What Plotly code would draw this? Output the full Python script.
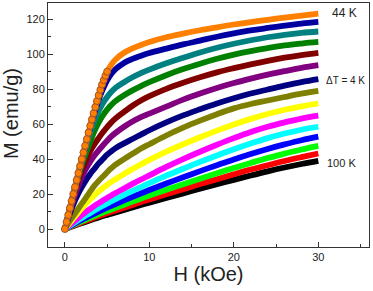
import plotly.graph_objects as go

# common field grid (kOe) for 48-100 K
H = [0, 0.5, 1, 1.5, 2, 2.5, 3, 3.5, 4, 4.5, 5, 5.5, 6, 7, 8, 9, 10, 12, 14, 16, 18, 20, 22, 24, 26, 28, 30]
# 44 K was read more finely at low field (individual symbols visible there)
H_44 = [0, 0.2, 0.4, 0.6, 0.8, 1.0, 1.2, 1.4, 1.6, 1.8, 2.0, 2.2, 2.4, 2.6, 2.8, 3.0, 3.2, 3.4, 3.6, 3.8,
        4.0, 4.2, 4.4, 4.6, 4.8, 5.0, 5.5, 6, 7, 8, 9, 10, 12, 14, 16, 18, 20, 22, 24, 26, 28, 30]

temps = ["44 K", "48 K", "52 K", "56 K", "60 K", "64 K", "68 K", "72 K",
         "76 K", "80 K", "84 K", "88 K", "92 K", "96 K", "100 K"]

M_44 = [0, 4, 8, 12, 16, 20, 24, 28, 32, 36, 40, 43.8, 47.6, 51.4, 55.2, 59, 62.6, 66.2, 69.8, 73.2,
        76.5, 79.6, 82.6, 85.2, 87.7, 90, 94, 97, 100.8, 103.3, 105.3, 107, 109.7, 111.8, 113.7, 115.4, 117, 118.4, 119.7, 120.9, 122.1, 123.2]
M_48 = [0, 10, 20, 30, 39.5, 49, 58, 66.5, 74, 80, 85, 88.8, 91.5, 95, 97.3, 99.1, 100.7, 103.2, 105.6, 107.8, 110, 111.9, 113.6, 115, 116.3, 117.5, 118.5]
M_52 = [0, 10, 20, 29.5, 38.5, 47, 55, 62, 67.5, 72, 75.5, 78.5, 80.8, 84, 86.8, 89.2, 91.2, 94.8, 98, 101, 103.7, 106, 108, 109.7, 111.1, 112.2, 113]
M_56 = [0, 9.8, 19.5, 28.5, 36.5, 43.5, 50, 56, 61, 65, 68.3, 71, 73.2, 76.5, 79.3, 81.8, 84, 88, 91.5, 94.6, 97.4, 99.8, 101.8, 103.5, 105, 106.1, 107]
M_60 = [0, 9.5, 18.5, 26.5, 33.5, 39.5, 44.5, 48.5, 52, 55.3, 58.3, 61, 63.3, 67, 70.5, 73.5, 76, 80.2, 83.7, 86.8, 89.6, 92, 94.2, 96.2, 98, 99.5, 100.8]
M_64 = [0, 8.5, 16.5, 23.5, 29.5, 34.5, 38.5, 42, 45, 47.8, 50.5, 53, 55, 58.5, 61.5, 64, 66, 70, 74, 77.5, 80.7, 83.5, 86, 88.3, 90.3, 92.2, 93.7]
M_68 = [0, 7.5, 14, 19.5, 24, 28, 31.5, 34.5, 37.5, 40, 42.5, 44.5, 46.3, 49, 51.5, 54, 56.5, 61, 65, 68.5, 71.8, 74.8, 77.5, 79.8, 82, 84, 85.7]
M_72 = [0, 4, 7.5, 11, 14.5, 18, 21.5, 24.8, 27.5, 30, 32.5, 34.8, 36.8, 40, 43, 46, 48.5, 53.5, 58, 62, 65.7, 69, 71.5, 73.5, 75.5, 77.4, 79]
M_76 = [0, 3, 6, 9, 11.8, 14.5, 17, 19.3, 21.5, 23.5, 25.3, 27, 28.5, 31.5, 34.3, 37, 39.5, 44.2, 48.5, 52.5, 56.3, 59.8, 63, 65.8, 68.2, 70.2, 71.8]
M_80 = [0, 2, 4, 6, 8, 9.8, 11.5, 13.2, 14.8, 16.3, 17.8, 19.2, 20.6, 23.2, 25.8, 28.3, 30.7, 35.5, 40, 44.2, 48.2, 52, 55.5, 58.5, 61, 63.2, 64.8]
M_84 = [0, 1.6, 3.2, 4.8, 6.3, 7.8, 9.2, 10.6, 12, 13.3, 14.6, 15.9, 17.1, 19.5, 21.8, 24, 26.2, 30.5, 34.5, 38.4, 42.1, 45.6, 48.9, 52, 54.6, 56.8, 58.5]
M_88 = [0, 1.3, 2.6, 3.9, 5.2, 6.4, 7.6, 8.8, 10, 11.1, 12.2, 13.3, 14.3, 16.4, 18.4, 20.4, 22.3, 26, 29.6, 33.1, 36.5, 39.8, 42.9, 45.8, 48.4, 50.8, 52.8]
M_92 = [0, 1.1, 2.2, 3.3, 4.4, 5.4, 6.4, 7.4, 8.4, 9.4, 10.3, 11.2, 12.1, 13.9, 15.7, 17.4, 19.1, 22.4, 25.6, 28.8, 31.9, 34.9, 37.8, 40.6, 43.1, 45.5, 47.6]
M_96 = [0, 0.95, 1.9, 2.85, 3.8, 4.7, 5.6, 6.5, 7.4, 8.2, 9.0, 9.8, 10.6, 12.2, 13.8, 15.4, 16.9, 19.9, 22.8, 25.7, 28.5, 31.3, 34, 36.5, 38.9, 41.1, 43.2]
M_100 = [0, 0.85, 1.7, 2.55, 3.4, 4.2, 5.0, 5.8, 6.6, 7.4, 8.1, 8.8, 9.5, 10.9, 12.3, 13.7, 15.1, 17.8, 20.4, 23, 25.6, 28.1, 30.6, 33, 35.2, 37.2, 39]

series = [M_44, M_48, M_52, M_56, M_60, M_64, M_68, M_72,
          M_76, M_80, M_84, M_88, M_92, M_96, M_100]
fields = [H_44] + [H] * 14

colors = ["#FF8000", "#0000A0", "#008080", "#008000", "#800000", "#800080", "#000080",
          "#808000", "#FFFF00", "#FF00FF", "#00FFFF", "#0000FF", "#00FF00", "#FF0000", "#000000"]

fig = go.Figure()
# draw highest temperature first so 44 K ends on top
for name, h, m, c in reversed(list(zip(temps, fields, series, colors))):
    fig.add_trace(go.Scatter(
        x=h, y=m, name=name, mode="lines",
        line=dict(color=c, width=5.8, shape="spline", smoothing=1.1),
    ))

# 44 K symbols visible at low field
n_low = H_44.index(5.0) + 1
fig.add_trace(go.Scatter(
    x=H_44[:n_low], y=M_44[:n_low], mode="markers", showlegend=False,
    marker=dict(size=7, color="#FF8000", line=dict(color="#A0522D", width=1)),
))

font_family = "Liberation Sans, Arial, sans-serif"

fig.add_annotation(x=33.1, y=123.4, text="44 K", showarrow=False,
                   font=dict(size=12, color="#222", family=font_family))
fig.add_annotation(x=33.2, y=85, text="ΔT = 4 K", showarrow=False,
                   font=dict(size=10, color="#222", family=font_family))
fig.add_annotation(x=32.8, y=37.7, text="100 K", showarrow=False,
                   font=dict(size=11, color="#222", family=font_family))
# y-axis title placed as in the reference (slightly above plot centre)
fig.add_annotation(xref="paper", yref="paper", x=-0.115, y=0.545, text="M (emu/g)",
                   textangle=-90, showarrow=False, xanchor="center", yanchor="middle",
                   font=dict(size=20, color="#222", family=font_family))

fig.update_layout(
    width=373, height=291,
    margin=dict(l=48, r=4, t=3, b=44),
    paper_bgcolor="white", plot_bgcolor="white",
    showlegend=False,
    font=dict(family=font_family, color="#222"),
)
fig.update_xaxes(
    range=[-2, 36], tickvals=[0, 10, 20, 30], ticks="inside", ticklen=5,
    tickwidth=1, tickcolor="#333",
    minor=dict(tickvals=[5, 15, 25, 35], ticks="inside", ticklen=3, tickcolor="#333"),
    showline=True, linecolor="#333", linewidth=1, mirror=True,
    showgrid=False, zeroline=False, automargin=False,
    tickfont=dict(size=11), title=dict(text="H (kOe)", font=dict(size=20), standoff=4),
)
fig.update_yaxes(
    range=[-10.3, 129.3], tickvals=[0, 20, 40, 60, 80, 100, 120], ticks="inside", ticklen=5,
    tickwidth=1, tickcolor="#333",
    minor=dict(tickvals=[-10, 10, 30, 50, 70, 90, 110], ticks="inside", ticklen=3, tickcolor="#333"),
    showline=True, linecolor="#333", linewidth=1, mirror=True,
    showgrid=False, zeroline=False, automargin=False,
    tickfont=dict(size=11),
)

fig.write_html("out.html", config={"displayModeBar": False},
               post_script="document.body.style.margin='0';document.body.style.overflow='hidden';")
